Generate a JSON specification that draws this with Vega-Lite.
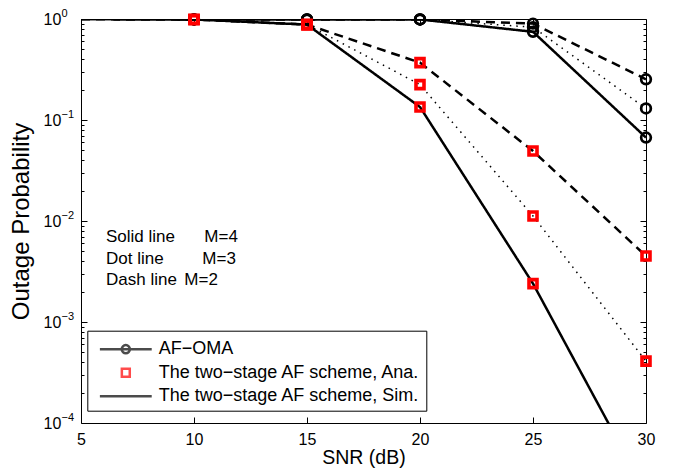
{
  "$schema": "https://vega.github.io/schema/vega-lite/v6.json",
  "width": 565,
  "height": 404,
  "autosize": {"type": "none"},
  "padding": {"left": 81, "top": 19, "right": 34, "bottom": 49},
  "background": "white",
  "config": {
    "font": "Liberation Sans",
    "view": {"stroke": "black", "strokeWidth": 1},
    "axis": {"grid": false, "domain": false, "tickColor": "black", "tickWidth": 1, "labelColor": "black", "titleColor": "black", "titleFontWeight": "normal", "labelFont": "Liberation Sans", "titleFont": "Liberation Sans"}
  },
  "datasets": {
    "lines": [
      {"series": "AF", "M": "2", "snr": 5, "p": 1}, {"series": "AF", "M": "2", "snr": 10, "p": 0.99}, {"series": "AF", "M": "2", "snr": 15, "p": 0.99}, {"series": "AF", "M": "2", "snr": 20, "p": 0.99}, {"series": "AF", "M": "2", "snr": 25, "p": 0.9}, {"series": "AF", "M": "2", "snr": 30, "p": 0.253},
      {"series": "AF", "M": "3", "snr": 5, "p": 1}, {"series": "AF", "M": "3", "snr": 10, "p": 0.99}, {"series": "AF", "M": "3", "snr": 15, "p": 0.99}, {"series": "AF", "M": "3", "snr": 20, "p": 0.99}, {"series": "AF", "M": "3", "snr": 25, "p": 0.83}, {"series": "AF", "M": "3", "snr": 30, "p": 0.13},
      {"series": "AF", "M": "4", "snr": 5, "p": 1}, {"series": "AF", "M": "4", "snr": 10, "p": 0.99}, {"series": "AF", "M": "4", "snr": 15, "p": 0.99}, {"series": "AF", "M": "4", "snr": 20, "p": 0.99}, {"series": "AF", "M": "4", "snr": 25, "p": 0.747}, {"series": "AF", "M": "4", "snr": 30, "p": 0.067},
      {"series": "Sim", "M": "2", "snr": 5, "p": 1}, {"series": "Sim", "M": "2", "snr": 10, "p": 0.99}, {"series": "Sim", "M": "2", "snr": 15, "p": 0.88}, {"series": "Sim", "M": "2", "snr": 20, "p": 0.37}, {"series": "Sim", "M": "2", "snr": 25, "p": 0.0493}, {"series": "Sim", "M": "2", "snr": 30, "p": 0.0045},
      {"series": "Sim", "M": "3", "snr": 5, "p": 1}, {"series": "Sim", "M": "3", "snr": 10, "p": 0.99}, {"series": "Sim", "M": "3", "snr": 15, "p": 0.88}, {"series": "Sim", "M": "3", "snr": 20, "p": 0.224}, {"series": "Sim", "M": "3", "snr": 25, "p": 0.0112}, {"series": "Sim", "M": "3", "snr": 30, "p": 0.00041},
      {"series": "Sim", "M": "4", "snr": 5, "p": 1}, {"series": "Sim", "M": "4", "snr": 10, "p": 0.99}, {"series": "Sim", "M": "4", "snr": 15, "p": 0.88}, {"series": "Sim", "M": "4", "snr": 20, "p": 0.1345}, {"series": "Sim", "M": "4", "snr": 25, "p": 0.0024}, {"series": "Sim", "M": "4", "snr": 30, "p": 0.0000204}
    ],
    "circles": [
      {"M": "2", "snr": 10, "p": 0.99}, {"M": "2", "snr": 15, "p": 0.99}, {"M": "2", "snr": 20, "p": 0.99}, {"M": "2", "snr": 25, "p": 0.9}, {"M": "2", "snr": 30, "p": 0.253},
      {"M": "3", "snr": 10, "p": 0.99}, {"M": "3", "snr": 15, "p": 0.99}, {"M": "3", "snr": 20, "p": 0.99}, {"M": "3", "snr": 25, "p": 0.83}, {"M": "3", "snr": 30, "p": 0.13},
      {"M": "4", "snr": 10, "p": 0.99}, {"M": "4", "snr": 15, "p": 0.99}, {"M": "4", "snr": 20, "p": 0.99}, {"M": "4", "snr": 25, "p": 0.747}, {"M": "4", "snr": 30, "p": 0.067}
    ],
    "squares": [
      {"M": "2", "snr": 10, "p": 0.99}, {"M": "2", "snr": 15, "p": 0.88}, {"M": "2", "snr": 20, "p": 0.37}, {"M": "2", "snr": 25, "p": 0.0493}, {"M": "2", "snr": 30, "p": 0.0045},
      {"M": "3", "snr": 10, "p": 0.99}, {"M": "3", "snr": 15, "p": 0.88}, {"M": "3", "snr": 20, "p": 0.224}, {"M": "3", "snr": 25, "p": 0.0112}, {"M": "3", "snr": 30, "p": 0.00041},
      {"M": "4", "snr": 10, "p": 0.99}, {"M": "4", "snr": 15, "p": 0.88}, {"M": "4", "snr": 20, "p": 0.1345}, {"M": "4", "snr": 25, "p": 0.0024}
    ],
    "keys": [
      {"k": "AF\u2212OMA"}, {"k": "The two\u2212stage AF scheme, Ana."}, {"k": "The two\u2212stage AF scheme, Sim."}
    ],
    "one": [{"note": "annotation"}]
  },
  "resolve": {"axis": {"x": "independent", "y": "independent"}},
  "layer": [
    {
      "data": {"name": "lines"},
      "mark": {"type": "line", "clip": true, "color": "black", "strokeCap": "butt"},
      "encoding": {
        "x": {"field": "snr", "type": "quantitative", "scale": {"domain": [5, 30], "nice": false, "zero": false},
              "axis": {"values": [5, 10, 15, 20, 25, 30], "ticks": false, "tickSize": 0, "labelFontSize": 16, "labelPadding": 8.7, "labelFlush": false, "labelOverlap": false, "title": "SNR (dB)", "titleFontSize": 19.5, "titlePadding": 0.5}},
        "y": {"field": "p", "type": "quantitative", "scale": {"type": "log", "domain": [0.0001, 1], "nice": false},
              "axis": {"values": [0.0001, 0.001, 0.01, 0.1, 1], "labelExpr": "'10'", "labelAlign": "left", "labelBaseline": "middle", "labelPadding": 38, "labelFontSize": 16, "ticks": false, "tickSize": 0, "labelFlush": false, "labelOverlap": false, "title": "Outage Probability", "titleFontSize": 24, "titlePadding": 9.5}},
        "detail": {"field": "series"},
        "strokeDash": {"field": "M", "type": "nominal", "scale": {"domain": ["2", "3", "4"], "range": [[9, 6], [1.5, 5], [1, 0]]}, "legend": null},
        "strokeWidth": {"field": "M", "type": "nominal", "scale": {"type": "ordinal", "domain": ["2", "3", "4"], "range": [2.5, 1.5, 2.5]}, "legend": null}
      }
    },
    {
      "data": {"name": "circles"},
      "mark": {"type": "point", "shape": "circle", "filled": false, "stroke": "black", "strokeWidth": 2.7, "size": 94, "opacity": 1},
      "encoding": {
        "x": {"field": "snr", "type": "quantitative", "scale": {"domain": [5, 30], "nice": false, "zero": false},
              "axis": {"orient": "bottom", "values": [10, 15, 20, 25], "labels": false, "tickSize": -6, "title": null}},
        "y": {"field": "p", "type": "quantitative", "scale": {"type": "log", "domain": [0.0001, 1], "nice": false},
              "axis": {"orient": "left", "values": [0.0001, 0.001, 0.01, 0.1, 1], "labels": false, "tickSize": -6, "title": null}}
      }
    },
    {
      "data": {"name": "squares"},
      "mark": {"type": "point", "shape": "square", "filled": false, "stroke": "#ff0000", "strokeWidth": 3.6, "size": 64, "opacity": 1},
      "encoding": {
        "x": {"field": "snr", "type": "quantitative", "scale": {"domain": [5, 30], "nice": false, "zero": false},
              "axis": {"orient": "top", "values": [10, 15, 20, 25], "labels": false, "tickSize": -6, "title": null}},
        "y": {"field": "p", "type": "quantitative", "scale": {"type": "log", "domain": [0.0001, 1], "nice": false},
              "axis": {"orient": "left", "values": [0.0002, 0.0003, 0.0004, 0.0005, 0.0006, 0.0007, 0.0008, 0.0009, 0.002, 0.003, 0.004, 0.005, 0.006, 0.007, 0.008, 0.009, 0.02, 0.03, 0.04, 0.05, 0.06, 0.07, 0.08, 0.09, 0.2, 0.3, 0.4, 0.5, 0.6, 0.7, 0.8, 0.9], "labels": false, "tickSize": -3, "title": null}}
      }
    },
    {
      "data": {"name": "keys"},
      "transform": [{"filter": "false"}],
      "mark": {"type": "point", "filled": false, "strokeWidth": 2.5},
      "encoding": {
        "x": {"field": "snr", "type": "quantitative", "scale": {"domain": [5, 30], "nice": false, "zero": false}, "axis": null},
        "y": {"field": "p", "type": "quantitative", "scale": {"type": "log", "domain": [0.0001, 1], "nice": false},
              "axis": {"orient": "right", "values": [0.0001, 0.001, 0.01, 0.1, 1], "labels": false, "tickSize": -6, "title": null}},
        "shape": {"field": "k", "type": "nominal",
                  "scale": {"domain": ["AF\u2212OMA", "The two\u2212stage AF scheme, Ana.", "The two\u2212stage AF scheme, Sim."],
                            "range": ["M-2.16,0H2.16M-0.34,0A0.34,0.34 0 1,1 0.34,0A0.34,0.34 0 1,1 -0.34,0", "M-0.33,-0.33H0.33V0.33H-0.33Z", "M-2.16,0H2.16"]},
                  "legend": {"title": null, "orient": "none", "legendX": 6.3, "legendY": 311.7, "padding": 5, "fillColor": "white", "strokeColor": "black", "symbolSize": 576, "symbolStrokeWidth": 2.5, "symbolOffset": 20, "labelOffset": 19.4, "labelFontSize": 18, "labelColor": "black", "labelLimit": 500, "rowPadding": 0.5, "labelExpr": "datum.label + '\u00a0\u00a0\u00a0\u00a0'"}},
        "stroke": {"field": "k", "type": "nominal",
                   "scale": {"domain": ["AF\u2212OMA", "The two\u2212stage AF scheme, Ana.", "The two\u2212stage AF scheme, Sim."], "range": ["#000000", "#ff0000", "#000000"]},
                   "legend": {"title": null, "orient": "none", "legendX": 6.3, "legendY": 311.7, "padding": 5, "fillColor": "white", "strokeColor": "black", "symbolSize": 576, "symbolStrokeWidth": 2.5, "symbolOffset": 20, "labelOffset": 19.4, "labelFontSize": 18, "labelColor": "black", "labelLimit": 500, "rowPadding": 0.5, "labelExpr": "datum.label + '\u00a0\u00a0\u00a0\u00a0'"}}
      }
    },
    {
      "data": {"name": "one"},
      "mark": {"type": "text", "text": ["Solid line", "Dot line", "Dash line"], "align": "left", "baseline": "alphabetic", "fontSize": 17, "lineHeight": 21.6, "color": "black"},
      "encoding": {
        "x": {"datum": 6.106, "type": "quantitative", "scale": {"domain": [5, 30], "nice": false, "zero": false}, "axis": null},
        "y": {"datum": 0.00619, "type": "quantitative", "scale": {"type": "log", "domain": [0.0001, 1], "nice": false},
              "axis": {"orient": "right", "values": [0.0002, 0.0003, 0.0004, 0.0005, 0.0006, 0.0007, 0.0008, 0.0009, 0.002, 0.003, 0.004, 0.005, 0.006, 0.007, 0.008, 0.009, 0.02, 0.03, 0.04, 0.05, 0.06, 0.07, 0.08, 0.09, 0.2, 0.3, 0.4, 0.5, 0.6, 0.7, 0.8, 0.9], "labels": false, "tickSize": -3, "title": null}}
      }
    },
    {
      "data": {"name": "one"},
      "mark": {"type": "text", "text": "M=4", "align": "left", "baseline": "alphabetic", "fontSize": 17, "color": "black"},
      "encoding": {
        "x": {"datum": 10.456, "type": "quantitative", "scale": {"domain": [5, 30], "nice": false, "zero": false}, "axis": null},
        "y": {"datum": 0.00619, "type": "quantitative", "scale": {"type": "log", "domain": [0.0001, 1], "nice": false},
              "axis": {"orient": "left", "values": [0.0001, 0.001, 0.01, 0.1, 1], "labelExpr": "datum.value > 0.5 ? '0' : datum.value > 0.05 ? '\u22121' : datum.value > 0.005 ? '\u22122' : datum.value > 0.0005 ? '\u22123' : '\u22124'", "labelAlign": "left", "labelBaseline": "middle", "labelPadding": 20, "labelFontSize": 11, "labelOffset": -6, "ticks": false, "tickSize": 0, "labelFlush": false, "labelOverlap": false, "title": null}}
      }
    },
    {
      "data": {"name": "one"},
      "mark": {"type": "text", "text": "M=3", "align": "left", "baseline": "alphabetic", "fontSize": 17, "color": "black"},
      "encoding": {
        "x": {"datum": 10.367, "type": "quantitative", "scale": {"domain": [5, 30], "nice": false, "zero": false}, "axis": null},
        "y": {"datum": 0.00379, "type": "quantitative", "scale": {"type": "log", "domain": [0.0001, 1], "nice": false}, "axis": null}
      }
    },
    {
      "data": {"name": "one"},
      "mark": {"type": "text", "text": "M=2", "align": "left", "baseline": "alphabetic", "fontSize": 17, "color": "black"},
      "encoding": {
        "x": {"datum": 9.571, "type": "quantitative", "scale": {"domain": [5, 30], "nice": false, "zero": false}, "axis": null},
        "y": {"datum": 0.00231, "type": "quantitative", "scale": {"type": "log", "domain": [0.0001, 1], "nice": false}, "axis": null}
      }
    }
  ]
}
